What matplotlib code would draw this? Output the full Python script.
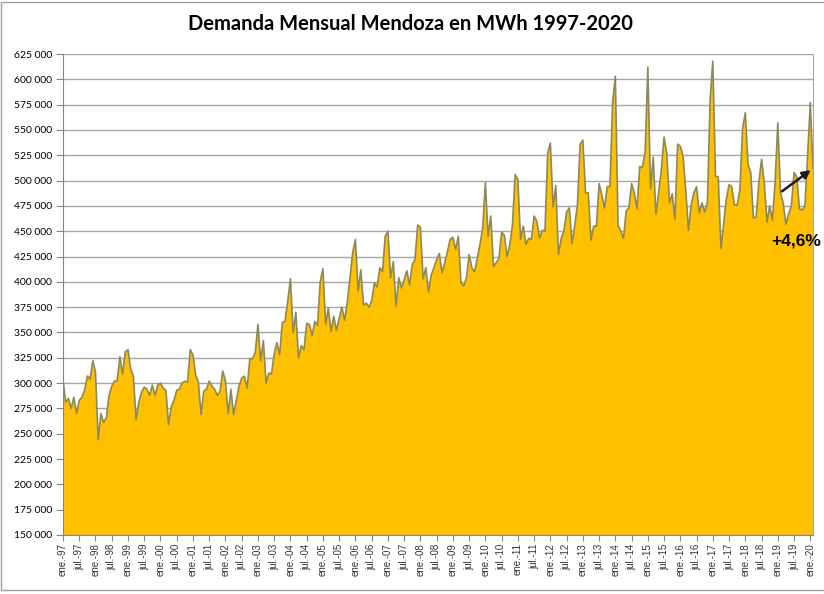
import matplotlib.pyplot as plt
from matplotlib.patches import Rectangle
from matplotlib.ticker import FuncFormatter

# monthly demand, thousands of MWh (ene..dic)
y1997 = [304, 281, 285, 275, 286, 270, 283, 286, 293, 307, 304, 322]
y1998 = [311, 244, 270, 261, 266, 288, 297, 302, 302, 326, 309, 331]
y1999 = [333, 314, 307, 264, 281, 291, 296, 294, 288, 298, 288, 298]
y2000 = [300, 295, 293, 259, 277, 283, 293, 294, 300, 302, 301, 333]
y2001 = [328, 308, 301, 269, 292, 294, 302, 297, 294, 288, 292, 312]
y2002 = [302, 270, 294, 269, 283, 297, 305, 307, 295, 324, 324, 330]
y2003 = [358, 322, 342, 300, 310, 309, 329, 340, 328, 360, 361, 381]
y2004 = [403, 350, 370, 325, 337, 333, 359, 358, 347, 361, 357, 400]
y2005 = [413, 358, 374, 351, 366, 352, 364, 375, 362, 380, 404, 429]
y2006 = [442, 391, 412, 377, 379, 375, 381, 399, 395, 414, 410, 445]
y2007 = [450, 404, 420, 376, 404, 394, 402, 411, 397, 417, 422, 456]
y2008 = [454, 403, 414, 390, 407, 414, 422, 428, 409, 419, 430, 442]
y2009 = [444, 432, 445, 399, 396, 404, 427, 414, 410, 423, 437, 453]
y2010 = [498, 445, 465, 415, 419, 423, 449, 446, 425, 437, 456, 506]
y2011 = [501, 442, 455, 437, 443, 442, 465, 460, 443, 451, 450, 527]
y2012 = [537, 474, 495, 427, 443, 450, 469, 473, 438, 456, 476, 536]
y2013 = [540, 488, 488, 441, 455, 455, 497, 486, 473, 494, 494, 578]
y2014 = [603, 456, 450, 443, 470, 473, 497, 488, 472, 514, 513, 528]
y2015 = [612, 492, 523, 467, 488, 511, 543, 527, 478, 487, 462, 536]
y2016 = [534, 524, 491, 451, 476, 488, 494, 468, 478, 469, 478, 580]
y2017 = [618, 504, 504, 433, 458, 482, 496, 494, 476, 476, 491, 552]
y2018 = [567, 516, 508, 463, 464, 498, 521, 498, 459, 475, 461, 498]
y2019 = [557, 488, 478, 457, 467, 475, 508, 504, 472, 471, 475, 524]
y2020 = [577, 512]

years = [y1997, y1998, y1999, y2000, y2001, y2002, y2003, y2004, y2005, y2006,
         y2007, y2008, y2009, y2010, y2011, y2012, y2013, y2014, y2015, y2016,
         y2017, y2018, y2019, y2020]

demand = []
for yr in years:
    demand += [v * 1000 for v in yr]
months = list(range(len(demand)))

tick_pos = list(range(0, len(demand), 6))
tick_lab = []
for p in tick_pos:
    yy = (97 + p // 12) % 100
    tick_lab.append(("ene." if p % 12 == 0 else "jul.") + "-%02d" % yy)

fig = plt.figure(figsize=(8.24, 5.94), dpi=100)
ax = fig.add_axes([63 / 824, 1 - 535 / 594, 750 / 824, 481 / 594])

ax.fill_between(months, 0, demand, color="#FFC000", lw=0)
ax.plot(months, demand, color="#8C895C", lw=1.2)

ax.set_xlim(0, len(demand) - 1)
ax.set_ylim(150000, 625000)
ax.set_yticks(range(150000, 625001, 25000))
ax.yaxis.set_major_formatter(FuncFormatter(lambda v, p: "{:,.0f}".format(v).replace(",", " ")))
ax.set_xticks(tick_pos)
ax.set_xticklabels(tick_lab, rotation=90, fontsize=7, family="Liberation Sans", color="#333333")
for lab in ax.get_yticklabels():
    lab.set_family("Lato")
    lab.set_fontsize(7.5)
ax.tick_params(axis="y", length=5, width=0.8, color="#868686", pad=3)
ax.tick_params(axis="x", length=4, width=0.8, color="#868686", pad=2)
ax.grid(axis="y", color="#A6A6A6", lw=1)
ax.set_axisbelow(True)

for s in ["left", "bottom"]:
    ax.spines[s].set_color("#868686")
ax.spines["right"].set_color("#A6A6A6")
ax.spines["top"].set_visible(False)
ax.spines["right"].set_linewidth(0.8)

# growth arrow at the end
ax.annotate("", xy=(277, 512000), xytext=(264.7, 487700),
            arrowprops=dict(arrowstyle="-|>", color="#1a1a1a", lw=1.8, mutation_scale=12),
            annotation_clip=False)
ax.text(261.5, 440600, "+4,6%", fontsize=12.5, fontweight="bold", family="Liberation Sans",
        va="center", ha="left", clip_on=False)

fig.text(410 / 824, 1 - 24 / 594, "Demanda Mensual Mendoza en MWh 1997-2020",
         ha="center", va="center", fontsize=14.5, fontweight="bold", family="Lato")

# chart border
fig.patches.append(Rectangle((0.0012, 0.006), 1.2, 0.991, transform=fig.transFigure,
                             fill=False, ec="#A0A0A0", lw=1))

plt.savefig("out.png")
